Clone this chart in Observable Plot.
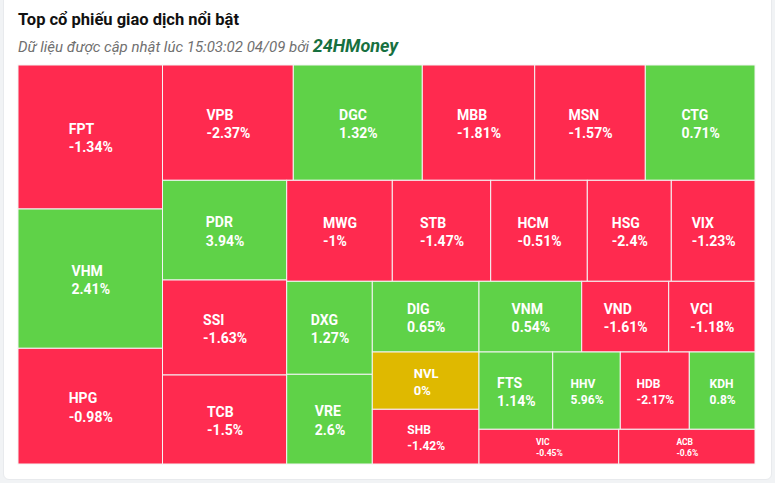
<!DOCTYPE html>
<html>
<head>
<meta charset="utf-8">
<script src="https://cdn.jsdelivr.net/npm/d3@7"></script>
<script src="https://cdn.jsdelivr.net/npm/@observablehq/plot@0.6"></script>
<style>
  html, body { margin: 0; padding: 0; background: #f1f3f5; width: 775px; height: 483px; overflow: hidden; }
  #card { position: absolute; left: 3px; top: -10px; width: 767px; height: 488px; background: #fff; border: 1px solid #e8eaed; border-radius: 6px; }
  #title { position: absolute; left: 18px; top: 10px; font: 700 16.5px Roboto, sans-serif; color: #111; white-space: nowrap; }
  #subtitle { position: absolute; left: 18px; top: 35px; font: italic 400 15px Roboto, sans-serif; color: #707070; white-space: nowrap; }
  #subtitle b { font: italic 700 18px Roboto, sans-serif; color: #17703f; }
  #chart { position: absolute; left: 3px; top: 60px; }
</style>
</head>
<body>
<div id="card"></div>
<div id="title">Top cổ phiếu giao dịch nổi bật</div>
<div id="subtitle">Dữ liệu được cập nhật lúc 15:03:02 04/09 bởi <b>24HMoney</b></div>
<div id="chart"></div>
<script>
const tickers = ["FPT","VHM","HPG","VPB","DGC","MBB","MSN","CTG","PDR","SSI","TCB","MWG","STB","HCM","HSG","VIX","DXG","VRE","DIG","VNM","VND","VCI","NVL","SHB","FTS","HHV","HDB","KDH","VIC","ACB"];
const changes = [-1.34, 2.41, -0.98, -2.37, 1.32, -1.81, -1.57, 0.71, 3.94, -1.63, -1.5, -1, -1.47, -0.51, -2.4, -1.23, 1.27, 2.6, 0.65, 0.54, -1.61, -1.18, 0, -1.42, 1.14, 5.96, -2.17, 0.8, -0.45, -0.6];
const tradeValues = [20808, 20129, 16719, 15081, 14874, 12960, 12752, 12648, 12383, 11799, 11054, 10666, 9938, 9757, 8484, 8454, 7961, 7678, 7544, 7261, 6151, 6101, 6114, 5836, 5697, 5225, 5334, 5078, 4848, 4730];

const W = 737, H = 399;

// Squarified layout with alternating strip direction (column first, then row, ...)
function squarifiedAlt(parent, x0, y0, x1, y1) {
  const nodes = parent.children;
  const scale = (x1 - x0) * (y1 - y0) / parent.value;
  const aspect = (w, h) => Math.max(w / h, h / w);
  const g = {width: x1 - x0, height: y1 - y0, dir: 0, total: 0, nW: 0, lW: 0, nH: 0, lH: 0, els: [], lR: NaN, nR: NaN};
  let px = x0, py = y0;
  function add(el) {
    const prev = g.els.length ? g.els[g.els.length - 1].a : NaN;
    g.total += el.a;
    if (g.dir === 0) {
      g.lW = g.nW; g.lR = aspect(g.lW, prev / g.lW);
      g.nW = g.total / g.height; g.nR = aspect(g.nW, prev / g.nW);
    } else {
      g.lH = g.nH; g.lR = aspect(prev / g.lH, g.lH);
      g.nH = g.total / g.width; g.nR = aspect(prev / g.nH, g.nH);
    }
    g.els.push(el);
  }
  function place(last) {
    const gw = last ? g.nW : g.lW, gh = last ? g.nH : g.lH;
    const keep = last ? null : g.els[g.els.length - 1];
    const list = last ? g.els : g.els.slice(0, -1);
    for (const el of list) {
      const n = el.node;
      if (g.dir === 0) { n.x0 = px; n.y0 = py; n.x1 = px + gw; n.y1 = py + el.a / gw; py = n.y1; }
      else { n.x0 = px; n.y0 = py; n.y1 = py + gh; n.x1 = px + el.a / gh; px = n.x1; }
    }
    g.els = []; g.total = 0; g.nW = 0; g.lW = 0;
    if (g.dir === 0) g.width -= gw; else g.height -= gh;
    px = x1 - g.width; py = y1 - g.height;
    g.dir = 1 - g.dir;
    if (keep) add(keep);
  }
  nodes.forEach((node, i) => {
    add({node, a: node.value * scale});
    if (g.nR > g.lR) place(false);
    if (i === nodes.length - 1) place(true);
  });
}

const rows = tickers.map((t, i) => ({ticker: t, change: changes[i], value: tradeValues[i]}));
const root = d3.hierarchy({children: rows}).sum(d => d.value || 0);
d3.treemap().tile(squarifiedAlt).size([W, H]).round(false)(root);

const ctx = document.createElement("canvas").getContext("2d");
const cells = root.leaves().map(leaf => {
  const d = leaf.data;
  const w = leaf.x1 - leaf.x0, h = leaf.y1 - leaf.y0;
  const fs = h < 40 ? 8.5 : (Math.min(w, h) < 70 ? (w * h > 6000 ? 13 : 12) : 14);
  const pct = String(d.change) + "%";
  ctx.font = `700 ${fs}px Roboto`;
  const tw = Math.max(ctx.measureText(d.ticker).width, ctx.measureText(pct).width);
  return {
    x0: leaf.x0, x1: leaf.x1, y0: leaf.y0, y1: leaf.y1,
    trend: d.change > 0 ? "up" : d.change < 0 ? "down" : "flat",
    label: d.ticker + "\n" + pct,
    fs,
    lx: (leaf.x0 + leaf.x1) / 2 - tw / 2,
    cy: (leaf.y0 + leaf.y1) / 2
  };
});

const chart = Plot.plot({
  width: 767,
  height: 410,
  marginLeft: 15,
  marginRight: 15,
  marginTop: 5,
  marginBottom: 6,
  style: {background: "transparent", fontFamily: "Roboto, sans-serif"},
  x: {domain: [0, W], axis: null},
  y: {domain: [0, H], axis: null, reverse: true},
  color: {domain: ["up", "down", "flat"], range: ["#5fd248", "#ff2a4f", "#dfb900"]},
  marks: [
    Plot.rect(cells, {x1: "x0", x2: "x1", y1: "y0", y2: "y1", fill: "trend", stroke: "#f4f4f4", strokeWidth: 1}),
    Plot.text(cells, {x: "lx", y: "cy", text: "label", textAnchor: "start", lineAnchor: "middle", lineHeight: 1.3, fill: "white", fontWeight: 700, fontSize: "fs"})
  ]
});
document.getElementById("chart").appendChild(chart);
</script>
</body>
</html>
